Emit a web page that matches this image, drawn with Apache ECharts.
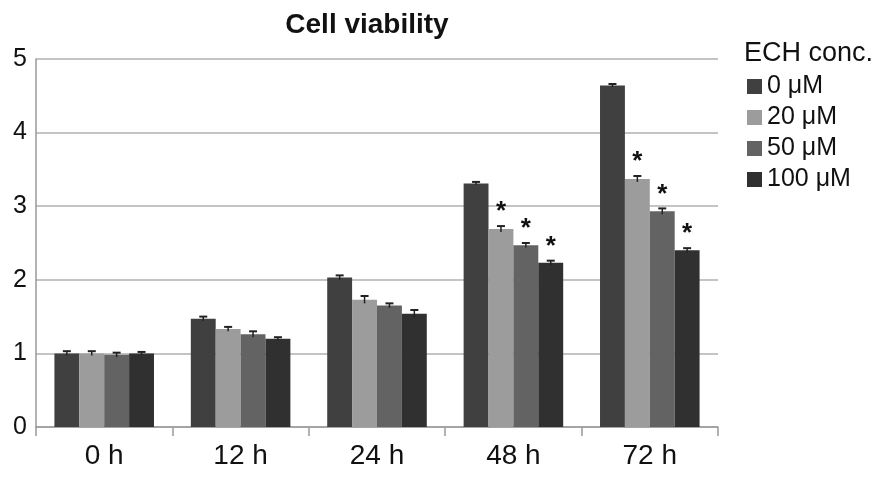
<!DOCTYPE html>
<html><head><meta charset="utf-8">
<script src="https://cdn.jsdelivr.net/npm/echarts@6/dist/echarts.min.js"></script>
<style>html,body{margin:0;padding:0;background:#fff}#c{width:895px;height:480px}</style>
</head><body><div id="c"></div>
<script>
var categories = ['0 h', '12 h', '24 h', '48 h', '72 h'];
var seriesNames = ['0 μM', '20 μM', '50 μM', '100 μM'];
var v0 = [1.00, 1.47, 2.03, 3.31, 4.64];
var v20 = [1.00, 1.33, 1.73, 2.69, 3.37];
var v50 = [0.98, 1.26, 1.65, 2.47, 2.93];
var v100 = [1.00, 1.20, 1.54, 2.23, 2.40];
var e0 = [0.03, 0.03, 0.03, 0.02, 0.02];
var e20 = [0.03, 0.03, 0.05, 0.04, 0.04];
var e50 = [0.03, 0.04, 0.03, 0.03, 0.04];
var e100 = [0.02, 0.02, 0.05, 0.03, 0.03];
var star0 = [0, 0, 0, 0, 0];
var star20 = [0, 0, 0, 1, 1];
var star50 = [0, 0, 0, 1, 1];
var star100 = [0, 0, 0, 1, 1];
var yTicks = [0, 1, 2, 3, 4, 5];

var values = [v0, v20, v50, v100];
var errs = [e0, e20, e50, e100];
var stars = [star0, star20, star50, star100];
var colors = ['#404040', '#9c9c9c', '#636363', '#303030'];
var catGap = 0.27;
var FONT = 'Liberation Sans';

var chart = echarts.init(document.getElementById('c'));
var series = [];
values.forEach(function (vals, i) {
  series.push({
    name: seriesNames[i], type: 'bar', data: vals, barGap: '0%', barCategoryGap: (catGap * 100) + '%',
    itemStyle: { color: colors[i] }, z: 2
  });
});
values.forEach(function (vals, i) {
  var data = vals.map(function (v, k) { return [k, v, errs[i][k], stars[i][k]]; });
  series.push({
    type: 'custom', z: 3, silent: true,
    data: data,
    renderItem: function (params, api) {
      var k = api.value(0), v = api.value(1), e = api.value(2), s = api.value(3);
      var c = api.coord([k, v]);
      var band = api.size([1, 0])[0];
      var w = band * (1 - catGap) / 4;
      var x = c[0] + (i - 1.5) * w;
      var top = api.coord([k, v + e])[1];
      var bot = api.coord([k, v - e])[1];
      var hw = 4;
      var children = [
        { type: 'line', shape: { x1: x, y1: top, x2: x, y2: bot }, style: { stroke: '#222', lineWidth: 1.5 } },
        { type: 'line', shape: { x1: x - hw, y1: top, x2: x + hw, y2: top }, style: { stroke: '#222', lineWidth: 2 } }
      ];
      if (s) {
        children.push({ type: 'text', style: { text: '*', x: x, y: top - 1, align: 'center', verticalAlign: 'bottom', font: 'bold 26px Liberation Sans, Arial', fill: '#111' } });
      }
      return { type: 'group', children: children };
    }
  });
});

chart.setOption({
  animation: false,
  backgroundColor: '#fff',
  title: [
    { text: 'Cell viability', left: 362, top: 6, textAlign: 'center', textStyle: { fontFamily: FONT, fontWeight: 'bold', fontSize: 28, color: '#111' } },
    { text: 'ECH conc.', left: 739, top: 35, textStyle: { fontFamily: FONT, fontWeight: 'normal', fontSize: 27, color: '#111' } }
  ],
  legend: {
    orient: 'vertical', left: 742, top: 69, itemWidth: 15, itemHeight: 15, itemGap: 6,
    icon: 'rect', data: seriesNames,
    textStyle: { fontFamily: FONT, fontSize: 25, color: '#111' }
  },
  grid: { left: 36, right: 177, top: 59, bottom: 53 },
  xAxis: {
    type: 'category', data: categories,
    axisLine: { lineStyle: { color: '#999', width: 1.5 } },
    axisTick: { show: true, length: 9, lineStyle: { color: '#999', width: 1.5 } },
    axisLabel: { fontFamily: FONT, fontSize: 28, color: '#111', margin: 15 }
  },
  yAxis: {
    type: 'value', min: yTicks[0], max: yTicks[yTicks.length - 1], interval: 1,
    axisLine: { show: true, lineStyle: { color: '#999', width: 1.5 } },
    axisTick: { show: false },
    splitLine: { lineStyle: { color: '#b0b0b0', width: 1.5 } },
    axisLabel: { fontFamily: FONT, fontSize: 25, color: '#111', margin: 9 }
  },
  series: series
});
</script></body></html>
